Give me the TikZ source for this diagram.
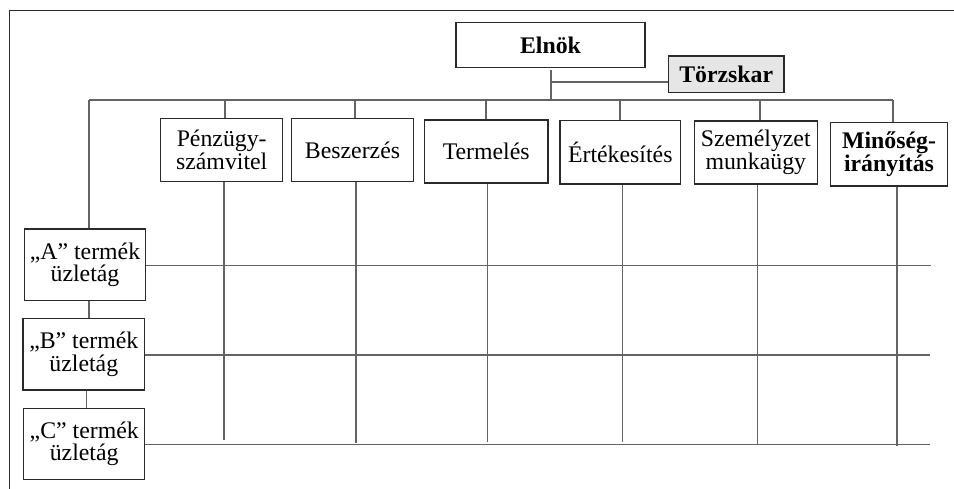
\documentclass[tikz,border=0pt]{standalone}
\usepackage{fontspec}
\setmainfont{Liberation Serif}
\definecolor{boxline}{HTML}{2A2A2A}
\definecolor{conn}{HTML}{646464}
\definecolor{staff}{HTML}{E6E6E6}
\begin{document}
\begin{tikzpicture}[x=1pt,y=-1pt,
  box/.style={draw=boxline,line width=1.3pt,fill=white,inner sep=0pt,align=center,
    font=\fontsize{23.8}{22.8}\selectfont},
  conline/.style={draw=conn,line width=1.6pt},
  frameline/.style={draw=boxline,line width=1.5pt}]
\useasboundingbox (0,0) rectangle (954,489);
% frame
\draw[frameline] (9.3,489) -- (9.3,10.5) -- (954,10.5);
% top
\node[box,minimum width=189pt,minimum height=45pt,font=\fontsize{23.8}{22.8}\selectfont\bfseries] (elnok) at (550.5,45) {Elnök};
\node[box,fill=staff,minimum width=115.5pt,minimum height=36.3pt,font=\fontsize{23.8}{22.8}\selectfont\bfseries] (torzs) at (726.2,74.2) {Törzskar};
% departments
\node[box,minimum width=122pt,minimum height=63.4pt] (penz) at (221.7,150) {Pénzügy-\\számvitel};
\node[box,minimum width=121.6pt,minimum height=63.4pt] (besz) at (352.5,150) {Beszerzés};
\node[box,minimum width=123.7pt,minimum height=63pt] (term) at (486.2,151.5) {Termelés};
\node[box,minimum width=120.7pt,minimum height=63.3pt] (ert) at (620.3,152.3) {Értékesítés};
\node[box,minimum width=123pt,minimum height=63pt] (szem) at (755.8,152.5) {Személyzet\\munkaügy};
\node[box,minimum width=116.6pt,minimum height=63.7pt,font=\fontsize{23.8}{22.8}\selectfont\bfseries] (minos) at (889,154.2) {Minőség-\\irányítás};
% business units
\node[box,minimum width=121.4pt,minimum height=71.3pt] (ua) at (85,264.7) {„A” termék\\üzletág};
\node[box,minimum width=121.7pt,minimum height=71.7pt] (ub) at (83.8,354.2) {„B” termék\\üzletág};
\node[box,minimum width=121pt,minimum height=71pt] (uc) at (84.2,443.8) {„C” termék\\üzletág};
% coordinates
\coordinate (stemtop) at (550.7,70);
\coordinate (stemstaff) at (550.7,82);
\coordinate (staffend) at (torzs.west |- 0,82);
\coordinate (busL) at (88.7,100.3);
\coordinate (busR) at (892.7,100.3);
% connectors top
\draw[conline] (stemtop) -- (stemtop |- busL);
\draw[conline] (stemstaff) -- (staffend);
\draw[conline] (busL) -- (busR);
\draw[conline] (busL) -- (busL |- ua.north);
\draw[conline] (224.7,100.3) -- (224.7,0 |- penz.north);
\draw[conline] (355,100.3) -- (355,0 |- besz.north);
\draw[conline] (485.7,100.3) -- (485.7,0 |- term.north);
\draw[conline] (620,100.3) -- (620,0 |- ert.north);
\draw[conline] (760,100.3) -- (760,0 |- szem.north);
\draw[conline] (busR) -- (busR |- minos.north);
% verticals below departments
\draw[conline] (224,0 |- penz.south) -- (224,440);
\draw[conline] (355.7,0 |- besz.south) -- (355.7,443);
\draw[conline] (487.3,0 |- term.south) -- (487.3,441.7);
\draw[conline] (622.3,0 |- ert.south) -- (622.3,441.7);
\draw[conline] (757.5,0 |- szem.south) -- (757.5,444.5);
\draw[conline] (896.7,0 |- minos.south) -- (896.7,446);
% unit links
\draw[conline] (88.7,0 |- ua.south) -- (88.7,0 |- ub.north);
\draw[conline] (86.3,0 |- ub.south) -- (86.3,0 |- uc.north);
% horizontal lines
\draw[conline] (ua.east |- 0,265.7) -- (931,265.7);
\draw[conline] (ub.east |- 0,355) -- (930,355);
\draw[conline] (uc.east |- 0,444.5) -- (930,444.5);
\end{tikzpicture}
\end{document}
